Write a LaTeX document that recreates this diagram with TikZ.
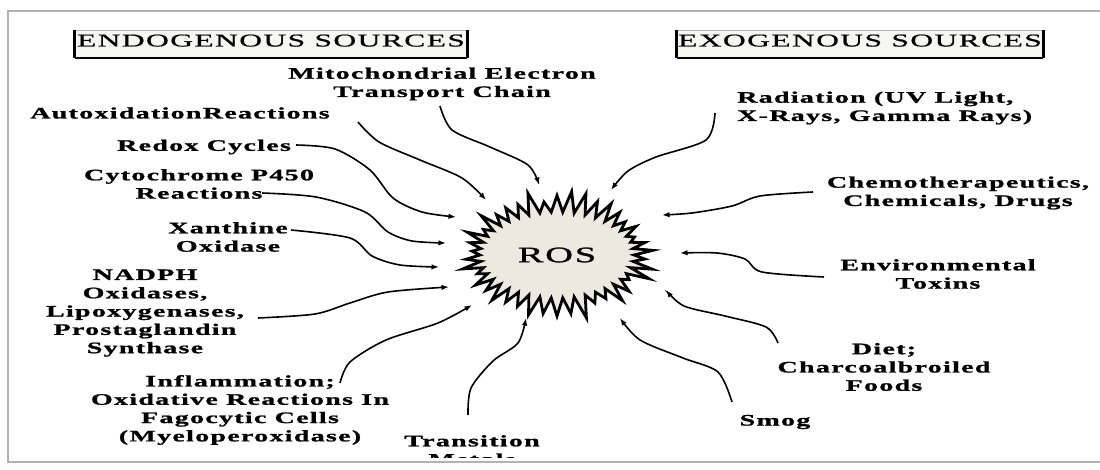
\documentclass[tikz,border=0pt]{standalone}
\usepackage{fontspec}
\setmainfont{Liberation Serif}
\newfontfamily\srcfont{Liberation Serif}[FakeStretch=1.75,LetterSpace=8,FakeBold=1.2]
\newfontfamily\hdrfont{Liberation Serif}[FakeStretch=1.75,LetterSpace=8,FakeBold=0.8]
\usetikzlibrary{shapes.symbols,arrows.meta}
\definecolor{rosfill}{RGB}{236,233,224}
\definecolor{framegray}{RGB}{178,178,178}
\definecolor{hdrfill}{RGB}{246,246,243}
\pgfdeclareradialshading{rosshade}{\pgfpoint{0bp}{0bp}}{color(0bp)=(rosfill); color(26bp)=(rosfill); color(34bp)=(white); color(50bp)=(white)}

\begin{document}
\begin{tikzpicture}[x=1pt, y=-1pt,
		lbl/.style={align=center, inner sep=1pt, font=\srcfont\bfseries\fontsize{16}{18.3}\selectfont},
		hdr/.style={fill=hdrfill, minimum height=28pt, inner sep=0pt, text depth=7pt, font=\hdrfont\fontsize{18}{21}\selectfont},
		src/.style={-{Latex[length=7.5pt,width=5.5pt]}, line width=1.6pt},
		]
		\useasboundingbox (0,0) rectangle (1100,470);
		\draw[framegray, line width=1.5pt] (1110,11) -- (8,11) -- (8,462) -- (1110,462);

		%Headers
		\node[hdr, minimum width=392pt] (endo) at (271,44) {ENDOGENOUS SOURCES};
		\node[hdr, minimum width=366pt] (exo)  at (860,44) {EXOGENOUS SOURCES};
		\foreach \h in {endo, exo}{
			\draw[framegray] (\h.north west) -- (\h.north east);
			\draw[line width=2pt] (\h.south west) -- (\h.south east);
			\draw[line width=3pt] (\h.north west) -- (\h.south west);
			\draw[line width=3pt] (\h.north east) -- (\h.south east);
		}

		%ROS
		\node[starburst, starburst points=42, starburst point height=23pt,
			minimum width=200pt, minimum height=132pt, draw, line width=2.8pt,
			shade, shading=rosshade, font=\srcfont\fontsize{22}{24}\selectfont]
			(ros) at (557,255) {ROS};

		%Endogenous sources
		\node[lbl] (mito)  at (442,84)  {Mitochondrial Electron\\Transport Chain};
		\node[lbl] (autox) at (180,113) {AutoxidationReactions};
		\node[lbl] (redox) at (204,147) {Redox Cycles};
		\node[lbl] (cyto)  at (199,184) {Cytochrome P450\\Reactions};
		\node[lbl] (xan)   at (228,237) {Xanthine\\Oxidase};
		\node[lbl] (nadph) at (145,313) {NADPH\\Oxidases,\\Lipoxygenases,\\Prostaglandin\\Synthase};
		\node[lbl] (infl)  at (240,410) {Inflammation;\\Oxidative Reactions In\\Fagocytic Cells\\(Myeloperoxidase)};
		\begin{scope}
			\clip (8,11) rectangle (1100,457);
			\node[lbl] (trans) at (472,450) {Transition\\Metals};
		\end{scope}

		%Exogenous sources
		\node[lbl, align=left, anchor=west] (rad) at (736,108) {Radiation (UV Light,\\X-Rays, Gamma Rays)};
		\node[lbl] (chemo) at (958,193) {Chemotherapeutics,\\Chemicals, Drugs};
		\node[lbl] (env)   at (938,274) {Environmental\\Toxins};
		\node[lbl] (diet)  at (884,367) {Diet;\\Charcoalbroiled\\Foods};
		\node[lbl] (smog)  at (775,422) {Smog};

		%Arrows
		\draw[src] plot[smooth] coordinates {([shift={(-2,22)}]mito.center) (452,130) (490,147) (528,165) ([shift={(-18,-70)}]ros.center)};
		\draw[src] plot[smooth] coordinates {([shift={(178,9)}]autox.center) (379,142) (420,160) (462,178) ([shift={(-71,-55)}]ros.center)};
		\draw[src] plot[smooth] coordinates {([shift={(92,-2)}]redox.center) (335,149) (370,170) (393,198) (422,212) ([shift={(-101,-38)}]ros.center)};
		\draw[src] plot[smooth] coordinates {([shift={(63,9)}]cyto.center) (316,197) (365,212) (388,232) (412,241) ([shift={(-111,-12)}]ros.center)};
		\draw[src] plot[smooth] coordinates {([shift={(63,-7)}]xan.center) (350,238) (372,256) (400,265) ([shift={(-118,12)}]ros.center)};
		\draw[src] plot[smooth] coordinates {([shift={(113,5)}]nadph.center) (315,314) (350,303) (388,292) ([shift={(-108,32)}]ros.center)};
		\draw[src] plot[smooth] coordinates {([shift={(100,-27)}]infl.center) (350,362) (386,340) (438,323) ([shift={(-85,50)}]ros.center)};
		\draw[src] plot[smooth] coordinates {([shift={(-4,-35)}]trans.center) (471,388) (493,361) (518,343) ([shift={(-31,63)}]ros.center)};
		\draw[src] plot[smooth] coordinates {([shift={(-21,5)}]rad.west) (706,140) (656,157) (628,171) ([shift={(54,-65)}]ros.center)};
		\draw[src] plot[smooth] coordinates {([shift={(-145,-1)}]chemo.center) (760,196) (732,206) (692,213) ([shift={(105,-40)}]ros.center)};
		\draw[src] plot[smooth] coordinates {([shift={(-114,3)}]env.center) (762,272) (745,259) (717,253) ([shift={(123,-2)}]ros.center)};
		\draw[src] plot[smooth] coordinates {([shift={(-106,-24)}]diet.center) (766,327) (725,316) (684,306) ([shift={(109,35)}]ros.center)};
		\draw[src] plot[smooth] coordinates {([shift={(-43,-20)}]smog.center) (718,372) (683,358) (640,340) ([shift={(63,63)}]ros.center)};
	\end{tikzpicture}
\end{document}
